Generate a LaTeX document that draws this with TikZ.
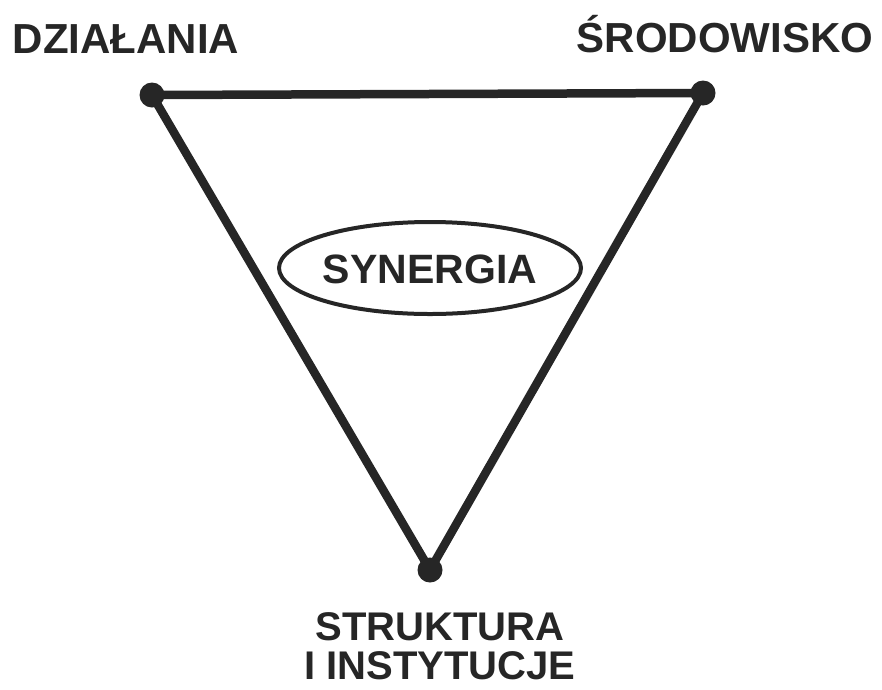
\documentclass[tikz,border=0pt]{standalone}
\usepackage{fontspec}
\setmainfont{Liberation Sans}
\usetikzlibrary{shapes.geometric}
\begin{document}
\begin{tikzpicture}[x=1pt,y=-1pt,
  edge/.style={line width=8.5pt,draw=black!85},
  vdot/.style={circle,fill=black!85,minimum size=25pt,inner sep=0pt},
  lbl/.style={font=\fontsize{42}{37}\selectfont\bfseries,text=black!85,inner sep=0pt,anchor=base,align=center},
  oval/.style={ellipse,draw=black!85,line width=4pt,minimum width=302pt,minimum height=92pt,inner sep=0pt}]
\useasboundingbox (0,0) rectangle (882,689);
\coordinate (a) at (152,95);
\coordinate (b) at (703,93);
\coordinate (c) at (430,570);
\draw[edge,line join=round] (a) -- (b) -- (c) -- cycle;
\node[vdot] (da) at (a) {};
\node[vdot] (db) at (b) {};
\node[vdot] (dc) at (c) {};
\node[lbl] (ta) at (126,53) {DZIAŁANIA};
\node[lbl] (tb) at (725,52) {ŚRODOWISKO};
\node[lbl,font=\fontsize{40}{39}\selectfont\bfseries] (tc) at (440,679) {STRUKTURA\\I INSTYTUCJE};
\node[oval] (syn) at (430,268) {};
\node[lbl,font=\fontsize{41}{41}\selectfont\bfseries] (synt) at (430,283) {SYNERGIA};
\end{tikzpicture}
\end{document}
